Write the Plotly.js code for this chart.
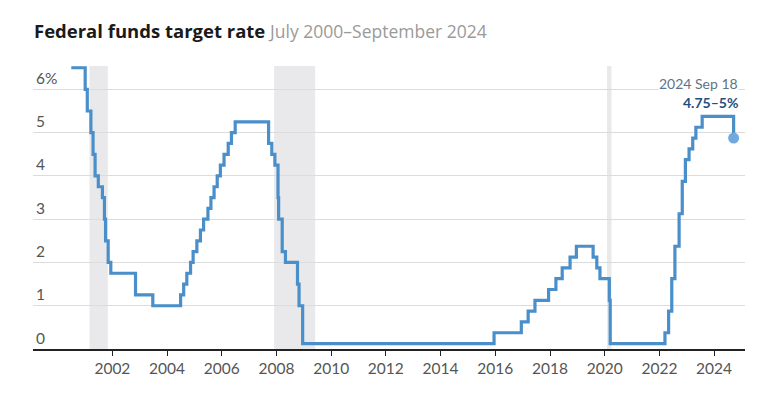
<!DOCTYPE html>
<html>
<head>
<meta charset="utf-8">
<script src="https://cdn.plot.ly/plotly-3.0.1.min.js"></script>
<style>html,body{margin:0;padding:0;background:#fff;}#chart{width:759px;height:401px;}</style>
</head>
<body>
<div id="chart"></div>
<script>
// Federal funds target rate (single target until Dec 2008, then midpoint of target range)
const changeDates = [
  "2000-07-01","2001-01-03","2001-01-31","2001-03-20","2001-04-18","2001-05-15","2001-06-27",
  "2001-08-21","2001-09-17","2001-10-02","2001-11-06","2001-12-11","2002-11-06","2003-06-25",
  "2004-06-30","2004-08-10","2004-09-21","2004-11-10","2004-12-14","2005-02-02","2005-03-22",
  "2005-05-03","2005-06-30","2005-08-09","2005-09-20","2005-11-01","2005-12-13","2006-01-31",
  "2006-03-28","2006-05-10","2006-06-29","2007-09-18","2007-10-31","2007-12-11","2008-01-22",
  "2008-01-30","2008-03-18","2008-04-30","2008-10-08","2008-10-29","2008-12-16","2015-12-16",
  "2016-12-14","2017-03-15","2017-06-14","2017-12-13","2018-03-21","2018-06-13","2018-09-26",
  "2018-12-19","2019-07-31","2019-09-18","2019-10-30","2020-03-03","2020-03-15","2022-03-16",
  "2022-05-04","2022-06-15","2022-07-27","2022-09-21","2022-11-02","2022-12-14","2023-02-01",
  "2023-03-22","2023-05-03","2023-07-26","2024-09-18"
];
const rates = [
  6.5,6.0,5.5,5.0,4.5,4.0,3.75,
  3.5,3.0,2.5,2.0,1.75,1.25,1.0,
  1.25,1.5,1.75,2.0,2.25,2.5,2.75,
  3.0,3.25,3.5,3.75,4.0,4.25,4.5,
  4.75,5.0,5.25,4.75,4.5,4.25,3.5,
  3.0,2.25,2.0,1.5,1.0,0.125,0.375,
  0.625,0.875,1.125,1.375,1.625,1.875,2.125,
  2.375,2.125,1.875,1.625,1.125,0.125,0.375,
  0.875,1.625,2.375,3.125,3.875,4.375,4.625,
  4.875,5.125,5.375,4.875
];
const recessionStart = ["2001-03-01","2007-12-01","2020-02-01"];
const recessionEnd   = ["2001-11-01","2009-06-01","2020-04-01"];
const xTickVals = ["2002-01-01","2004-01-01","2006-01-01","2008-01-01","2010-01-01","2012-01-01",
                   "2014-01-01","2016-01-01","2018-01-01","2020-01-01","2022-01-01","2024-01-01"];
const xTickText = ["2002","2004","2006","2008","2010","2012","2014","2016","2018","2020","2022","2024"];
const yTickVals = [0,1,2,3,4,5,6];
const yTickText = ["0","1","2","3","4","5","6%"];
const lastLabelDate = "2024 Sep 18";
const lastLabelRange = "4.75–5%";

const FONT = "Lato, 'Open Sans', sans-serif";
const TFONT = "'Open Sans', Lato, sans-serif";
const lastIdx = rates.length - 1;

const traces = [
  {
    x: changeDates, y: rates, type: "scatter", mode: "lines",
    line: {color: "#4a8fc9", width: 3.2, shape: "hv"},
    hoverinfo: "skip"
  },
  {
    x: [changeDates[lastIdx]], y: [rates[lastIdx]], type: "scatter", mode: "markers",
    marker: {color: "#72a9dc", size: 11},
    hoverinfo: "skip"
  }
];

const shapes = recessionStart.map((s, i) => ({
  type: "rect", xref: "x", yref: "paper", x0: s, x1: recessionEnd[i], y0: 0, y1: 1,
  fillcolor: "#e9e9eb", line: {width: 0}, layer: "below"
}));

const layout = {
  width: 759, height: 401,
  margin: {l: 33, r: 14, t: 66, b: 52},
  paper_bgcolor: "#fff", plot_bgcolor: "rgba(0,0,0,0)",
  showlegend: false,
  font: {family: FONT, color: "#555"},
  title: {
    text: "<b>Federal funds target rate</b> <span style='color:#9a9a9a;font-size:17.5px'>July 2000–September 2024</span>",
    font: {family: TFONT, size: 18.5, color: "#1a1a1a"},
    xref: "container", yref: "container", x: 34/759, xanchor: "left", y: 1 - 32/401, yanchor: "middle"
  },
  xaxis: {
    type: "date",
    range: ["1999-02-06", "2025-02-17"],
    tickmode: "array", tickvals: xTickVals, ticktext: xTickText,
    showgrid: false, zeroline: false,
    showline: true, linecolor: "#222", linewidth: 1.5,
    ticks: "outside", ticklen: 5, tickcolor: "#222", tickwidth: 1,
    tickfont: {family: FONT, size: 15.5, color: "#555"}
  },
  yaxis: {
    range: [0, 6.54],
    tickvals: yTickVals, ticktext: yTickText,
    ticklabelposition: "inside top",
    showgrid: true, gridcolor: "#dcdcdc", gridwidth: 1,
    zeroline: false, showline: false, ticks: "",
    tickfont: {family: FONT, size: 15.5, color: "#555"}
  },
  shapes: shapes,
  annotations: [
    {
      xref: "paper", yref: "paper", x: (739-33)/712, y: (349-83)/283,
      xanchor: "right", yanchor: "middle", showarrow: false,
      text: lastLabelDate, bgcolor: "#fff", borderpad: 0,
      font: {family: FONT, size: 14, color: "#607487"}
    },
    {
      xref: "paper", yref: "paper", x: (739-33)/712, y: (349-102)/283,
      xanchor: "right", yanchor: "middle", showarrow: false,
      text: "<b>" + lastLabelRange + "</b>", bgcolor: "#fff", borderpad: 0,
      font: {family: FONT, size: 14, color: "#1f4f7c"}
    }
  ]
};

Plotly.newPlot("chart", traces, layout, {displayModeBar: false, staticPlot: true});
</script>
</body>
</html>
